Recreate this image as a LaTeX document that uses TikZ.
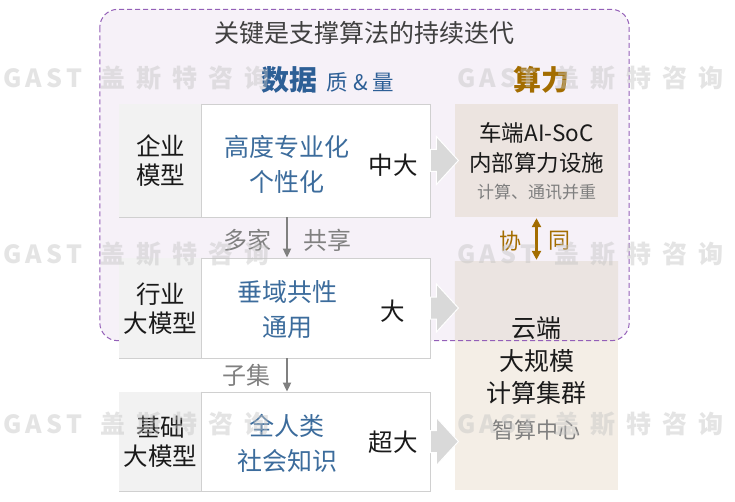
\documentclass[tikz,border=0pt]{standalone}
\usepackage{fontspec}
\setmainfont{Noto Sans CJK SC}
\newfontfamily\wmcjk[LetterSpace=44]{Noto Sans CJK SC}
\newfontfamily\wmlat[LetterSpace=18]{Noto Sans CJK SC}
\usetikzlibrary{arrows.meta,calc}
\definecolor{regfill}{HTML}{F6F1F8}
\definecolor{regline}{HTML}{9460B8}
\definecolor{ttl}{HTML}{404040}
\definecolor{dblue}{HTML}{2D5F96}
\definecolor{tblue}{HTML}{3C6C9C}
\definecolor{gold}{HTML}{A36D00}
\definecolor{cellg}{HTML}{F2F2F2}
\definecolor{boxline}{HTML}{D0D0D0}
\definecolor{arrg}{HTML}{808080}
\definecolor{blk}{HTML}{D9D9D9}
\definecolor{upfill}{HTML}{ECE4E0}
\definecolor{lowfill}{HTML}{F4EEE6}
\definecolor{lowin}{HTML}{EBE4E1}
\definecolor{txtgray}{HTML}{7F7F7F}
\definecolor{txtblk}{HTML}{1A1A1A}
\definecolor{wmgray}{HTML}{C4C4C4}
\begin{document}
\begin{tikzpicture}[x=1pt,y=-1pt,
  leftbox/.style={draw=boxline, fill=white, line width=0.8pt, minimum width=311pt, inner sep=0pt},
  lbl/.style={font=\fontsize{24.5}{29}\selectfont, align=center, text=txtblk, inner sep=0pt},
  bl/.style={font=\fontsize{25}{35}\selectfont, align=center, text=tblue, inner sep=0pt},
  sz/.style={font=\fontsize{24.5}{28}\selectfont, text=txtblk, inner sep=0pt},
  flow/.style={draw=arrg, line width=1.8pt, -{Triangle[length=9pt,width=8pt]}},
  flowlbl/.style={font=\fontsize{24}{28}\selectfont, text=arrg, inner sep=0pt},
  rtxt/.style={font=\fontsize{22.5}{26}\selectfont, text=txtblk, inner sep=0pt},
  rtxtb/.style={font=\fontsize{25}{28}\selectfont, text=txtblk, inner sep=0pt},
  rsub/.style={font=\fontsize{17}{20}\selectfont, text=txtgray, inner sep=0pt},
  blkarr/.style={fill=blk, draw=white, line width=1pt},
  wm/.style={text=wmgray, text opacity=0.45, inner sep=0pt, anchor=west, font=\fontsize{25}{30}\selectfont\bfseries}
]
\useasboundingbox (0,0) rectangle (735,502);
\fill[white] (0,0) rectangle (735,502);

% region
\node[fill=regfill, rounded corners=18pt, minimum width=529pt, minimum height=331pt, inner sep=0pt] (reg) at (364.5,175) {};

% right boxes
\node[fill=upfill, minimum width=163pt, minimum height=113pt, inner sep=0pt] (up) at (536.5,160.5) {};
\node[fill=lowfill, minimum width=163pt, minimum height=228pt, inner sep=0pt] (cloud) at (536.5,376) {};
\begin{scope}
  \clip (cloud.north west) rectangle (cloud.south east);
  \fill[lowin, rounded corners=18pt] (reg.north west) rectangle (reg.south east);
\end{scope}
\draw[regline, line width=1pt, dash pattern=on 5pt off 3pt, rounded corners=18pt] (reg.north west) rectangle (reg.south east);

% title
\node[font=\fontsize{25}{30}\selectfont, text=ttl, inner sep=0pt] (title) at (364.5,33) {关键是支撑算法的持续迭代};
\node[inner sep=0pt, text=dblue] (data) at (328,80) {{\fontsize{28}{32}\selectfont\bfseries 数据}\hspace{9pt}{\fontsize{21.5}{26}\selectfont 质 \& 量}};
\node[inner sep=0pt, text=gold, font=\fontsize{28}{32}\selectfont\bfseries] (comp) at (541,80) {算力};

% left boxes
\node[leftbox, minimum height=113pt] (b1) at (274.5,160.5) {};
\node[leftbox, minimum height=100pt] (b2) at (274.5,308) {};
\node[leftbox, minimum height=99pt] (b3) at (274.5,441.5) {};
\foreach \b in {b1,b2,b3}{
  \fill[cellg] ($(\b.north west)+(0.4,0.4)$) rectangle ($(\b.south west)+(83,-0.4)$);
  \draw[boxline, line width=0.8pt] ($(\b.north west)+(83,0)$) -- ($(\b.south west)+(83,0)$);
}

\node[lbl] (l1) at (160.5,161) {企业\\模型};
\node[lbl] (l2) at (160.5,308.5) {行业\\大模型};
\node[lbl] (l3) at (160.5,442) {基础\\大模型};

\node[bl] (t1) at (287,164) {高度专业化\\个性化};
\node[bl] (t2) at (287,309.5) {垂域共性\\通用};
\node[bl] (t3) at (287,443) {全人类\\社会知识};

\node[sz] (s1) at (393,165) {中大};
\node[sz] (s2) at (393,311) {大};
\node[sz] (s3) at (393,442) {超大};

% vertical flows
\draw[flow] (b1.south -| t1) -- (b2.north -| t1);
\draw[flow] (b2.south -| t1) -- (b3.north -| t1);
\node[flowlbl] (m1) at (247,240) {多家};
\node[flowlbl] (m2) at (327,240) {共享};
\node[flowlbl] (m3) at (246,375) {子集};

% block arrows
\foreach \b in {b1,b2,b3}{
  \draw[blkarr] ($(\b.east)+(0,-11)$) -- ++(6,0) -- ++(0,-13) -- ($(\b.east)+(28,0)$) -- ($(\b.east)+(6,24)$) -- ++(0,-13) -- ($(\b.east)+(0,11)$) -- cycle;
}

% right texts
\node[rtxt] (r1) at (536.5,133) {车端AI-SoC};
\node[rtxt] (r2) at (536.5,163) {内部算力设施};
\node[rsub] (r3) at (536.5,192) {计算、通讯并重};

\node[rtxtb] (c1) at (536.5,328) {云端};
\node[rtxtb] (c2) at (536.5,361) {大规模};
\node[rtxtb] (c3) at (536.5,393) {计算集群};
\node[font=\fontsize{22}{25}\selectfont, text=txtgray, inner sep=0pt] (c4) at (536.5,430) {智算中心};

% synergy arrow
\draw[gold, line width=2.5pt, {Triangle[length=9pt,width=9pt]}-{Triangle[length=9pt,width=9pt]}, shorten <=1pt, shorten >=2pt] (up.south) -- (cloud.north);
\node[font=\fontsize{22}{26}\selectfont, text=gold, inner sep=0pt] (x1) at (510,241) {协};
\node[font=\fontsize{22}{26}\selectfont, text=gold, inner sep=0pt] (x2) at (559,241) {同};

% watermarks
\foreach \y [count=\i] in {78,254,424}{
  \node[wm] (wa\i) at (3,\y) {\wmlat GAST};
  \node[wm] (wb\i) at (100,\y) {\wmcjk 盖斯特咨询};
  \node[wm] (wc\i) at (457,\y) {\wmlat GAST};
  \node[wm] (wd\i) at (554,\y) {\wmcjk 盖斯特咨询};
}
\end{tikzpicture}
\end{document}
